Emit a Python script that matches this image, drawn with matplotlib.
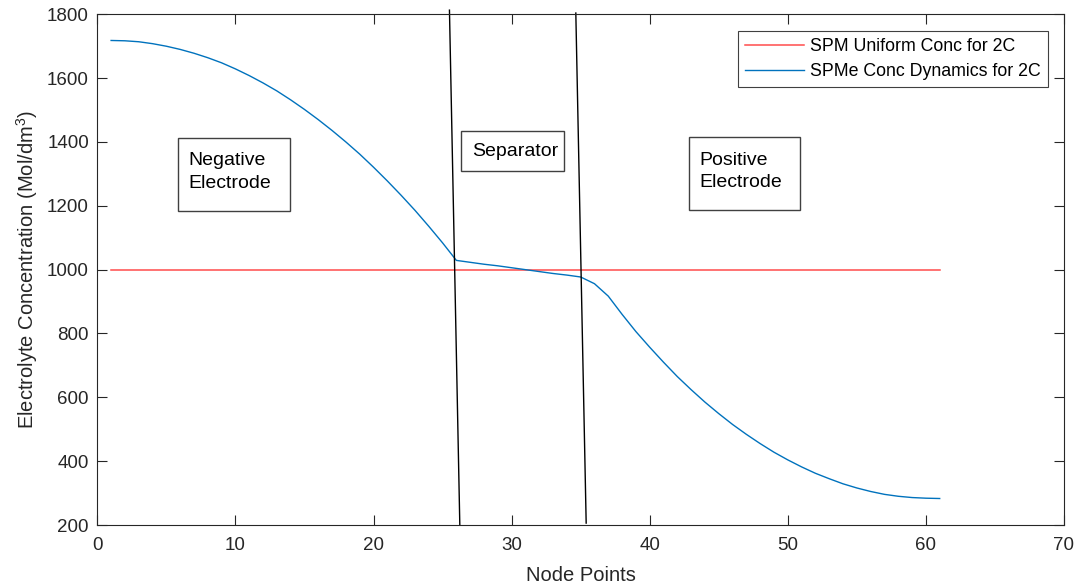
import matplotlib.pyplot as plt
from matplotlib.patches import Rectangle

plt.rcParams['font.family'] = ['Liberation Sans', 'DejaVu Sans']
plt.rcParams['mathtext.fontset'] = 'custom'
plt.rcParams['mathtext.rm'] = 'Liberation Sans'
plt.rcParams['mathtext.it'] = 'Liberation Sans:italic'

# node index along the cell (negative electrode -> separator -> positive electrode)
nodes = list(range(1, 62))

# uniform electrolyte concentration (SPM)
spm_conc = [1000] * len(nodes)

# electrolyte concentration profile (SPMe)
spme_conc = [
    1718, 1717, 1714, 1708, 1700, 1690, 1678, 1664, 1648, 1629,
    1608, 1585, 1560, 1532, 1502, 1470, 1436, 1400, 1362, 1321,
    1278, 1233, 1186, 1136, 1084, 1029,
    1023, 1017, 1012, 1006, 1000, 994, 988, 983, 977,
    956,
    917, 860, 806, 757, 710, 665, 624, 585, 549, 515,
    484, 455, 428, 404, 382, 362, 345, 329, 316, 305,
    296, 290, 286, 284, 283,
]

# region boundary markers (x at top, x at bottom)
boundary_lines = [
    ((25.5, 26.25), (1813, 200)),
    ((34.65, 35.4), (1804, 206)),
]

W, H = 1076, 588
fig = plt.figure(figsize=(W / 100, H / 100), dpi=100)
ax = fig.add_axes([97.3 / W, 1 - 525 / H, (1064 - 97.3) / W, (525 - 14.3) / H])

ax.plot(nodes, spm_conc, color='red', lw=1.1, alpha=0.7, label='SPM Uniform Conc for 2C')
ax.plot(nodes, spme_conc, color='#0072BD', lw=1.0, label='SPMe Conc Dynamics for 2C')

for xs, ys in boundary_lines:
    ax.plot(xs, ys, color='black', lw=1.0, clip_on=False)

ax.set_xlim(0, 70)
ax.set_ylim(200, 1800)
ax.set_xticks(range(0, 71, 10))
ax.set_yticks(range(200, 1801, 200))
ax.tick_params(direction='in', top=True, right=True, length=7, width=0.8,
               labelsize=13.5, colors='#262626', labelcolor='#262626')
ax.tick_params(axis='x', pad=9)
ax.tick_params(axis='y', pad=6)
for sp in ax.spines.values():
    sp.set_color('#262626')
    sp.set_linewidth(0.8)

ax.set_xlabel('Node Points', fontsize=14.5, color='#262626', labelpad=8)
ax.set_ylabel(r'Electrolyte Concentration (Mol/dm$^3$)', fontsize=14.5,
              color='#262626', labelpad=5)

leg = ax.legend(loc='upper right', bbox_to_anchor=(1047.7 / W, 1 - 30.7 / H),
                bbox_transform=fig.transFigure, fontsize=12.8, fancybox=False,
                framealpha=1, edgecolor='#404040', handlelength=3.3,
                handletextpad=0.35, labelspacing=0.45, borderpad=0.4,
                borderaxespad=0)
leg.get_frame().set_linewidth(0.8)

# text boxes labelling the three regions (pixel boxes: left, top, right, bottom)
boxes = [
    ((177.5, 137.7, 290, 211.3), 'Negative\nElectrode', 188.3, 172),
    ((461, 131, 564, 171), 'Separator', 471.7, 151),
    ((689, 137, 800, 210), 'Positive\nElectrode', 699, 171.5),
]
for (l, t, r, b), txt, tx, ty in boxes:
    fig.patches.append(Rectangle((l / W, 1 - b / H), (r - l) / W, (b - t) / H,
                                 transform=fig.transFigure, fill=False,
                                 edgecolor='#404040', lw=1.0))
    fig.text(tx / W, 1 - ty / H, txt, fontsize=14, color='black',
             ha='left', va='center', linespacing=1.45)

fig.savefig('out.png', dpi=100)
